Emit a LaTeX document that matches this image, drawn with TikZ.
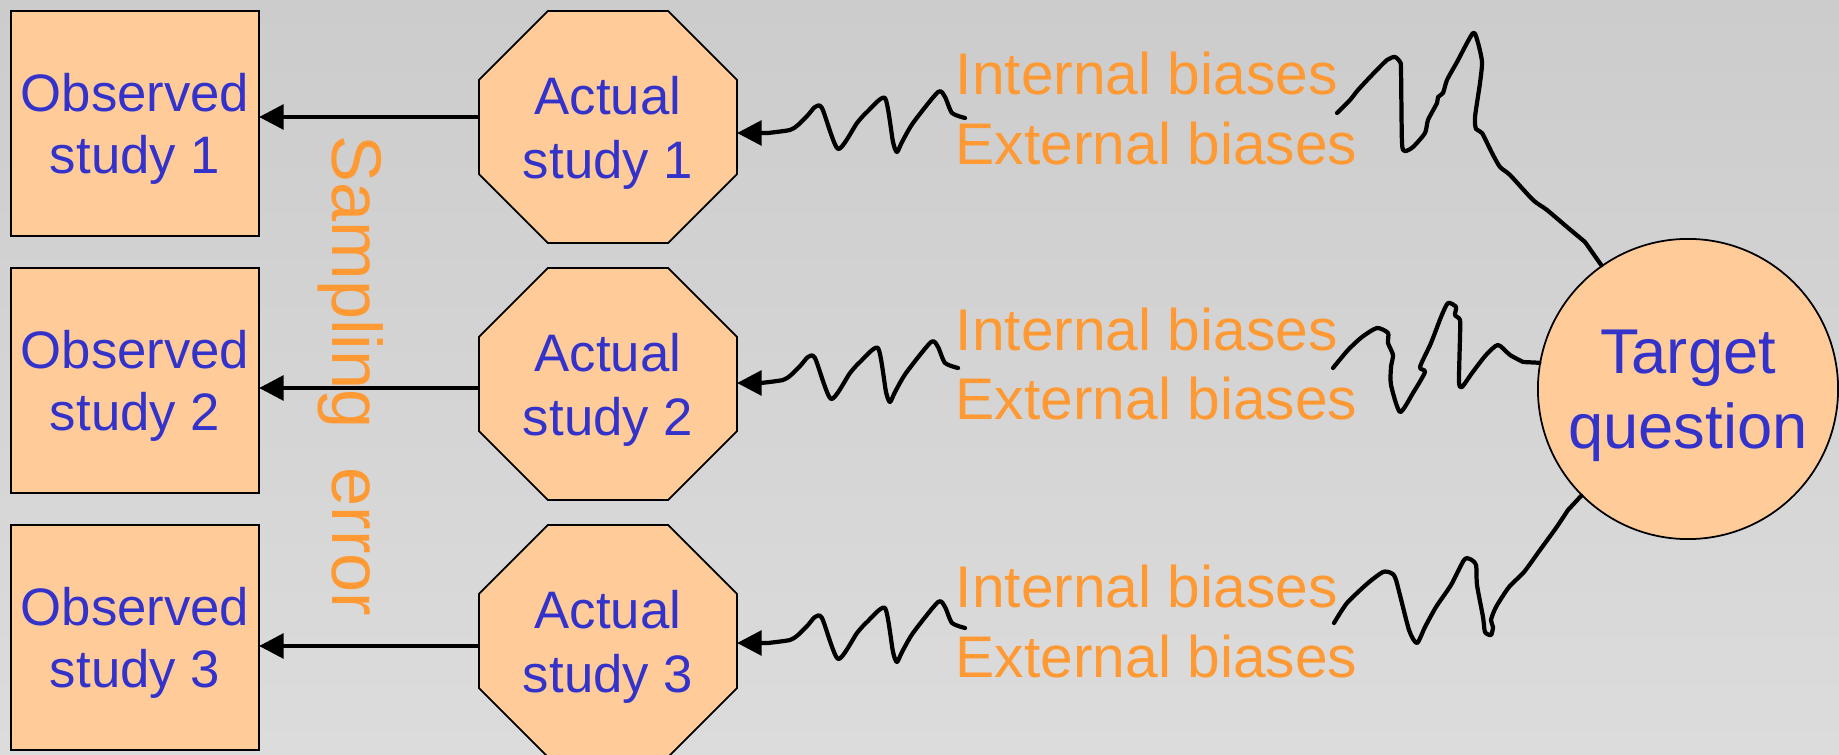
\documentclass[tikz,border=0pt]{standalone}
\usepackage{fontspec}
\setmainfont{Liberation Sans}
\usepackage{tikz}
\usetikzlibrary{arrows.meta, backgrounds, positioning}
\definecolor{boxfill}{HTML}{FFCC99}
\definecolor{studyblue}{HTML}{3333CC}
\definecolor{biasorange}{HTML}{FF9933}
\definecolor{bgtop}{HTML}{CCCCCC}
\definecolor{bgbottom}{HTML}{DCDCDC}
% octagon round an (invisible) node
\newcommand{\octo}[1]{%
  \filldraw[fill=boxfill, line width=0.5pt]
    ([xshift=0.69cm]#1.north west) -- ([xshift=-0.69cm]#1.north east)
    -- ([yshift=-0.69cm]#1.north east) -- ([yshift=0.69cm]#1.south east)
    -- ([xshift=-0.69cm]#1.south east) -- ([xshift=0.69cm]#1.south west)
    -- ([yshift=0.69cm]#1.south west) -- ([yshift=-0.69cm]#1.north west) -- cycle;}
% squiggle from the bias text back to an actual study
\newcommand{\biaslink}[2]{%
  \draw[wiggly, -{Triangle[length=7pt, width=7pt]}, shift={#1}]
    plot[smooth, tension=0.4] coordinates {(0,0) (-13,-5) (-20,-21) (-27,-26)
      (-52,5) (-63,24) (-68,34) (-72,24) (-80,-20) (-98,-6) (-108,5) (-127,31)
      (-143,-10) (-150,-11) (-157,-3) (-167,7) (-175,12) (-197,15)}
    -- (#2.east |- 0,15);}

\begin{document}
\begin{tikzpicture}[x=0.01cm, y=-0.01cm,
    observed/.style={draw, line width=0.5pt, fill=boxfill, text=studyblue, align=center,
      minimum width=2.48cm, minimum height=2.25cm, inner sep=0pt, outer sep=0pt,
      text depth=0pt, font=\fontsize{15}{17.8}\selectfont},
    actual/.style={minimum width=2.58cm, minimum height=2.32cm, inner sep=0pt, outer sep=0pt,
      text=studyblue, align=center, text depth=0pt, font=\fontsize{15}{18.2}\selectfont},
    bias/.style={text=biasorange, inner sep=0pt, anchor=base west,
      font=\fontsize{16.7}{19.6}\selectfont},
    flow/.style={line width=1.2pt, -{Triangle[length=7pt, width=7pt]}},
    wiggly/.style={line width=1.2pt, line join=round, line cap=round}]
  \useasboundingbox (0,0) rectangle (1839,755);

  % observed studies
  \node[observed] (o1) at (135,123.5) {Observed\\study 1};
  \node[observed] (o2) at (135,380.5) {Observed\\study 2};
  \node[observed] (o3) at (135,637.5) {Observed\\study 3};

  % actual studies
  \node[actual] (a1) at (608,127) {Actual\\study 1};
  \node[actual] (a2) at (608,384) {Actual\\study 2};
  \node[actual] (a3) at (608,641) {Actual\\study 3};

  \node[text=biasorange, rotate=-90, anchor=base, font=\fontsize{20}{24}\selectfont]
    (samp) at (332,376) {Sampling\ \ error};

  \draw[flow] (a1.west |- 0,117) -- (o1.east |- 0,117);
  \draw[flow] (a2.west |- 0,388) -- (o2.east |- 0,388);
  \draw[flow] (a3.west |- 0,646) -- (o3.east |- 0,646);

  % biases
  \node[bias] (bi1) at (955,95) {Internal biases};
  \node[bias] (be1) at (955,165) {External biases};
  \node[bias] (bi2) at (955,351) {Internal biases};
  \node[bias] (be2) at (955,420) {External biases};
  \node[bias] (bi3) at (955,607) {Internal biases};
  \node[bias] (be3) at (955,677) {External biases};

  \node[circle, draw, line width=0.5pt, fill=boxfill, text=studyblue, minimum size=3cm,
    inner sep=0pt, align=center, text depth=0pt, font=\fontsize{18}{21.3}\selectfont]
    (tq) at (1688,389) {Target\\question};

  \biaslink{(965,118)}{a1}
  \biaslink{(958,368)}{a2}
  \biaslink{(965,628)}{a3}

  % squiggles out of the target question
  \draw[wiggly] plot[smooth, tension=0.4] coordinates {(1337,113) (1350,100) (1358,90)
    (1372,75) (1387,60) (1395,57) (1400,62) (1401,70) (1402,143) (1405,151) (1413,147)
    (1425,133) (1428,120) (1437,103) (1438,97) (1443,93) (1447,80) (1457,62) (1473,33)
    (1478,43) (1482,62) (1480,83) (1475,117) (1476,129) (1482,133) (1492,153) (1500,167)
    (1510,175) (1533,200) (1547,210) (1567,227) (1585,242)} -- (tq.125);
  \draw[wiggly] plot[smooth, tension=0.4] coordinates {(1333,368) (1348,350) (1362,337)
    (1377,328) (1388,333) (1388,343) (1393,355) (1391,367) (1391,385) (1400,412)
    (1413,393) (1425,372) (1420,367) (1431,343) (1441,317) (1448,303) (1456,307)
    (1455,315) (1460,320) (1460,337) (1459,382) (1462,387) (1472,373) (1486,355)
    (1498,345) (1510,355) (1523,362)} -- (tq.170);
  \draw[wiggly] plot[smooth, tension=0.4] coordinates {(1334,623) (1347,603) (1368,583)
    (1383,572) (1391,573) (1396,580) (1409,630) (1417,643) (1425,627) (1436,607)
    (1451,585) (1464,560) (1470,559) (1476,565) (1477,585) (1483,617) (1485,632)
    (1491,635) (1493,627) (1491,620) (1496,607) (1509,587) (1524,572) (1540,550)
    (1556,528) (1568,510)} -- (tq.225);

  \begin{scope}[on background layer]
    \shade[top color=bgtop, bottom color=bgbottom] (0,0) rectangle (1839,755);
    \octo{a1} \octo{a2} \octo{a3}
  \end{scope}
\end{tikzpicture}
\end{document}
